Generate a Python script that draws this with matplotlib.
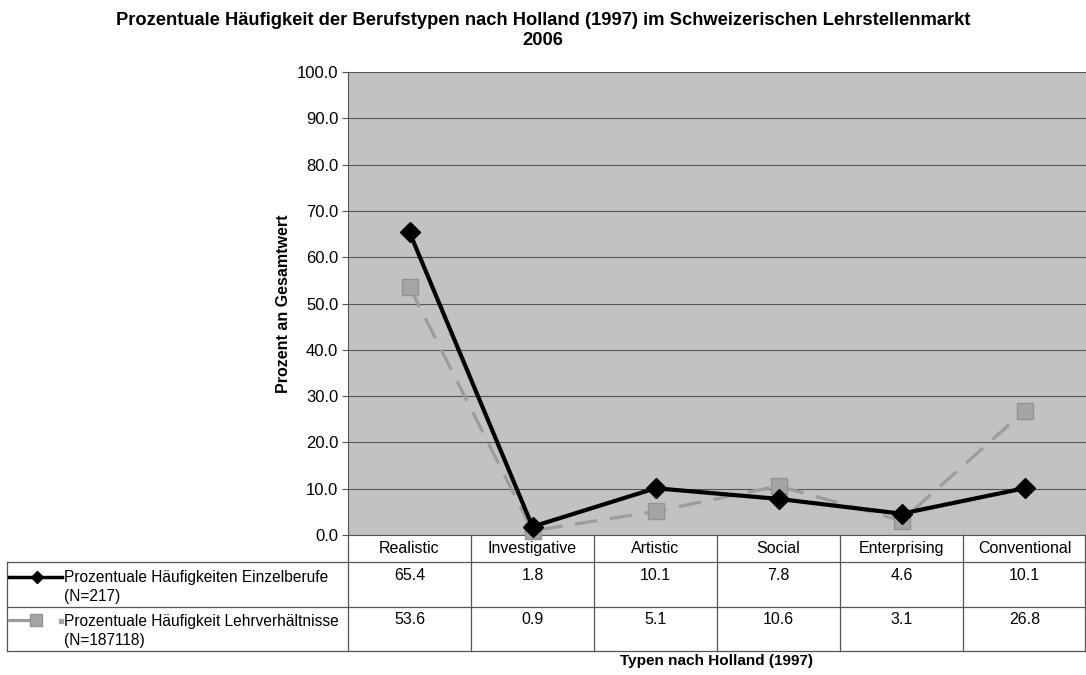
import matplotlib
matplotlib.use("Agg")
import matplotlib.pyplot as plt
from matplotlib.lines import Line2D

plt.rcParams['font.family'] = ['Liberation Sans', 'DejaVu Sans']

title = "Prozentuale Häufigkeit der Berufstypen nach Holland (1997) im Schweizerischen Lehrstellenmarkt\n2006"
categories = ["Realistic", "Investigative", "Artistic", "Social", "Enterprising", "Conventional"]
einzelberufe = [65.4, 1.8, 10.1, 7.8, 4.6, 10.1]
lehrverhaeltnisse = [53.6, 0.9, 5.1, 10.6, 3.1, 26.8]
series_labels = ["Prozentuale Häufigkeiten Einzelberufe\n(N=217)",
                 "Prozentuale Häufigkeit Lehrverhältnisse\n(N=187118)"]
y_ticks = [0, 10, 20, 30, 40, 50, 60, 70, 80, 90, 100]
y_label = "Prozent an Gesamtwert"
x_label = "Typen nach Holland (1997)"

W, H = 1086, 675
fig = plt.figure(figsize=(W / 100, H / 100), dpi=100)

def fx(px):
    return px / W

def fy(py):
    return 1 - py / H

# plot area in pixels
L, R, T, B = 348, 1086, 72, 535
ax = fig.add_axes([fx(L), fy(B), fx(R) - fx(L), fy(T) - fy(B)])
ax.set_facecolor("#c2c2c2")
n = len(categories)
ax.set_xlim(-0.5, n - 0.5)
ax.set_ylim(0, 100)
ax.set_yticks(y_ticks)
ax.set_yticklabels([f"{v:.1f}" for v in y_ticks], fontsize=12)
ax.set_xticks([])
ax.yaxis.grid(True, color="#555555", linewidth=0.8)
ax.set_axisbelow(True)
ax.tick_params(axis="y", length=4, color="#555555", pad=3)
for s in ["top", "right"]:
    ax.spines[s].set_visible(False)
ax.spines["left"].set_color("#555555")
ax.spines["bottom"].set_color("#555555")
ax.set_ylabel(y_label, fontsize=11.5, fontweight="bold", labelpad=4)

xs = list(range(n))
ax.plot(xs, lehrverhaeltnisse, color="#9c9c9c", linewidth=2.3, linestyle=(0, (7, 4)),
        marker="s", markersize=12, markerfacecolor="#a5a5a5", markeredgecolor="#939393",
        clip_on=False, zorder=3)
ax.plot(xs, einzelberufe, color="black", linewidth=3, marker="D", markersize=10,
        markerfacecolor="black", clip_on=False, zorder=4)

fig.text(0.5, fy(12), title, ha="center", va="top", fontsize=13.2, fontweight="bold",
         linespacing=1.2)

# data table
col_w = (R - L) / n
lc = "#555555"
lw = 0.9
for yy in [562, 607, 651]:
    fig.add_artist(Line2D([fx(7), fx(R)], [fy(yy), fy(yy)], color=lc, lw=lw))
fig.add_artist(Line2D([fx(7), fx(7)], [fy(562), fy(651)], color=lc, lw=lw))
for k in range(n + 1):
    x = L + k * col_w
    if k == n:
        x = R - 1
    fig.add_artist(Line2D([fx(x), fx(x)], [fy(535), fy(651)], color=lc, lw=lw))

for k, cat in enumerate(categories):
    cx = L + (k + 0.5) * col_w
    fig.text(fx(cx), fy(548.5), cat, ha="center", va="center", fontsize=11.5)
    fig.text(fx(cx), fy(576), f"{einzelberufe[k]:.1f}", ha="center", va="center", fontsize=11.5)
    fig.text(fx(cx), fy(620), f"{lehrverhaeltnisse[k]:.1f}", ha="center", va="center", fontsize=11.5)

# row labels with legend keys
fig.text(fx(64), fy(587), series_labels[0], ha="left", va="center", fontsize=11.2, linespacing=1.4)
fig.text(fx(64), fy(631), series_labels[1], ha="left", va="center", fontsize=11.2, linespacing=1.4)
fig.add_artist(Line2D([fx(9), fx(62)], [fy(577), fy(577)], color="black", lw=2.5))
fig.add_artist(Line2D([fx(37)], [fy(577)], color="black", marker="D", markersize=6,
                      linestyle="none"))
fig.add_artist(Line2D([fx(9), fx(31)], [fy(620), fy(620)], color="#9c9c9c", lw=2.3))
fig.add_artist(Line2D([fx(36)], [fy(620)], color="#a5a5a5", marker="s", markersize=8,
                      markeredgecolor="#939393", linestyle="none"))
fig.add_artist(Line2D([fx(61)], [fy(621)], color="#a5a5a5", marker="s", markersize=2.5,
                      linestyle="none"))

fig.text(fx((L + R) / 2), fy(661), x_label, ha="center", va="center", fontsize=11,
         fontweight="bold")

fig.savefig("out.png", dpi=100)
